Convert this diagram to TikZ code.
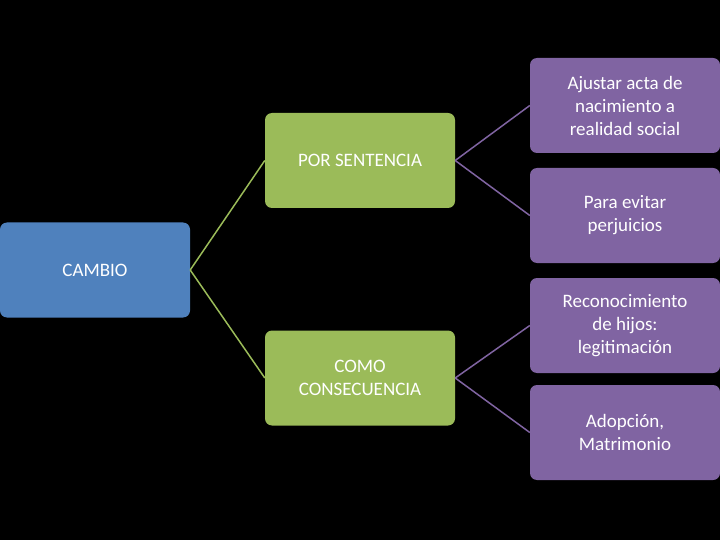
\documentclass[tikz,border=0pt]{standalone}
\usepackage{fontspec}
\setmainfont{Carlito}
\definecolor{cblue}{HTML}{4F81BD}
\definecolor{cgreen}{HTML}{9BBB59}
\definecolor{cpurple}{HTML}{8064A2}
\tikzset{box/.style={rounded corners=7pt,minimum width=190pt,minimum height=95pt,text=white,align=center,font=\fontsize{19}{23}\selectfont,inner sep=2pt}, gl/.style={draw=cgreen,line width=1.5pt}, pl/.style={draw=cpurple,line width=1.5pt}}
\begin{document}
\begin{tikzpicture}[x=1pt,y=-1pt]
\fill[black] (0,0) rectangle (720,540);
\useasboundingbox (0,0) rectangle (720,540);
\node[box,fill=cblue] (c) at (95,270) {CAMBIO};
\node[box,fill=cgreen] (s) at (360,160.5) {POR SENTENCIA};
\node[box,fill=cgreen] (k) at (360,378) {COMO\\CONSECUENCIA};
\node[box,fill=cpurple] (p1) at (625,105.5) {Ajustar acta de\\nacimiento a\\realidad social};
\node[box,fill=cpurple] (p2) at (625,215.5) {Para evitar\\perjuicios};
\node[box,fill=cpurple] (p3) at (625,325.5) {Reconocimiento\\de hijos:\\legitimación};
\node[box,fill=cpurple] (p4) at (625,432.5) {Adopción,\\Matrimonio};
\draw[gl] (c.east) -- (s.west);
\draw[gl] (c.east) -- (k.west);
\draw[pl] (s.east) -- (p1.west);
\draw[pl] (s.east) -- (p2.west);
\draw[pl] (k.east) -- (p3.west);
\draw[pl] (k.east) -- (p4.west);
\end{tikzpicture}
\end{document}
